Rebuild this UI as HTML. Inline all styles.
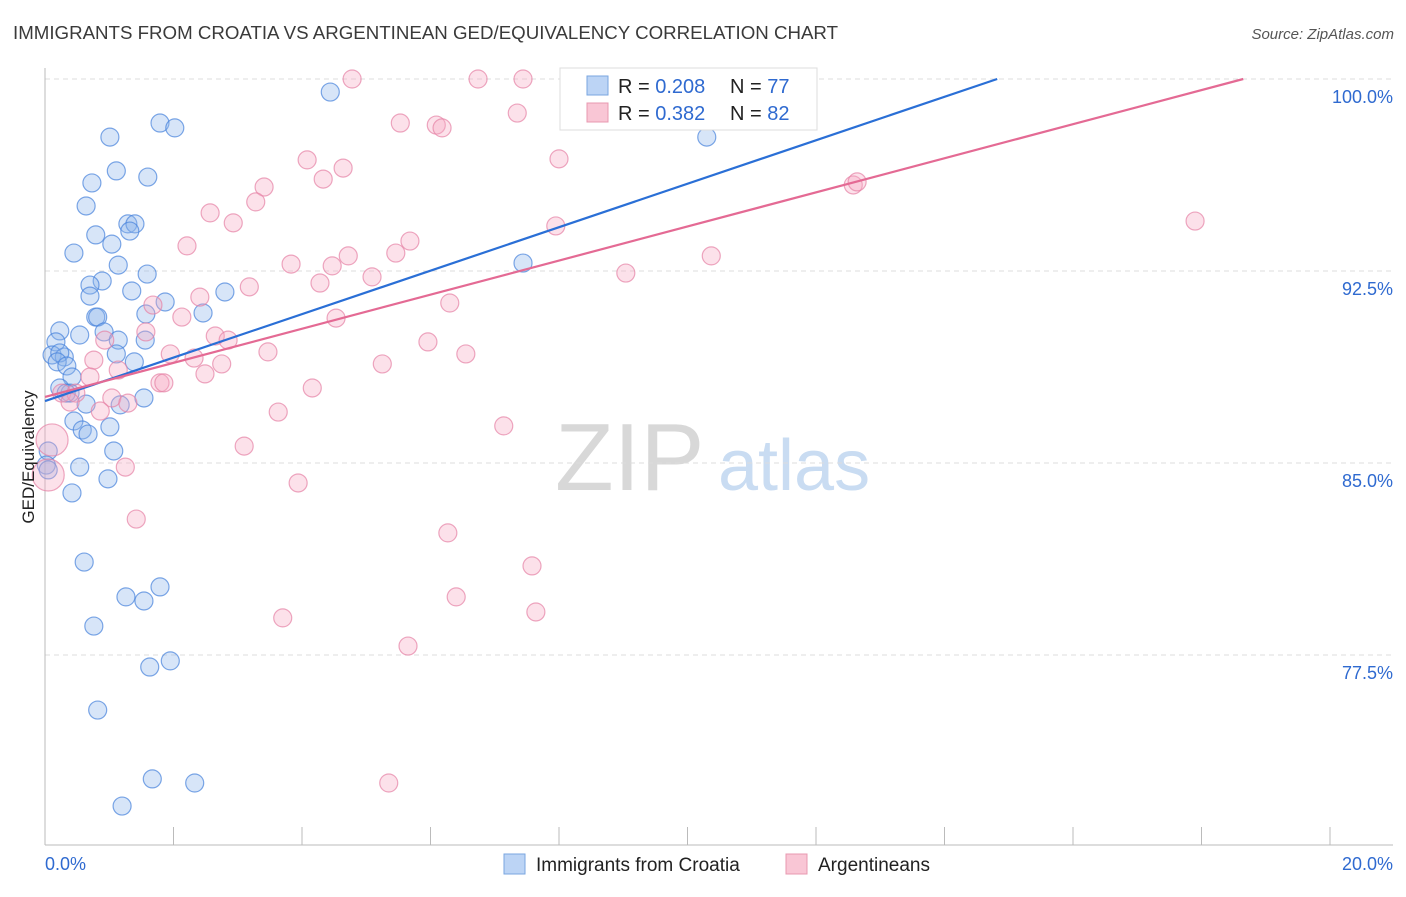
<!DOCTYPE html>
<html><head><meta charset="utf-8"><style>
body{margin:0;background:#fff;font-family:"Liberation Sans",sans-serif;}
svg text{font-family:"Liberation Sans",sans-serif;}
</style></head><body>
<svg id="chart" width="1406" height="892" xmlns="http://www.w3.org/2000/svg">
<text x="13" y="39" font-size="18.7" fill="#3a3a3a" textLength="825" lengthAdjust="spacingAndGlyphs">IMMIGRANTS FROM CROATIA VS ARGENTINEAN GED/EQUIVALENCY CORRELATION CHART</text>
<text x="1394" y="39" font-size="15" fill="#555" font-style="italic" text-anchor="end">Source: ZipAtlas.com</text>
<g>
<text x="555" y="490" font-size="96" fill="#d8d8d8" font-family="Liberation Serif, serif">ZIP</text>
<text x="718" y="490" font-size="72" fill="#c9dcf2">atlas</text>
</g>
<g id="grid"></g>
<g id="axes"></g>
<g id="pts"></g>
<g id="lines"></g>
<text transform="translate(34,457) rotate(-90)" font-size="17" fill="#222" text-anchor="middle">GED/Equivalency</text>
<g>
<rect x="560" y="68" width="257" height="62" fill="#fff" stroke="#ddd"/>
<rect x="587" y="76" width="21" height="19" fill="#bcd4f5" stroke="#7aa6e0"/>
<text x="618" y="93" font-size="20" fill="#222">R = <tspan fill="#2f6ad0">0.208</tspan></text>
<text x="730" y="93" font-size="20" fill="#222">N = <tspan fill="#2f6ad0">77</tspan></text>
<rect x="587" y="103" width="21" height="19" fill="#f9c6d5" stroke="#e898b0"/>
<text x="618" y="120" font-size="20" fill="#222">R = <tspan fill="#2f6ad0">0.382</tspan></text>
<text x="730" y="120" font-size="20" fill="#222">N = <tspan fill="#2f6ad0">82</tspan></text>
</g>
<g>
<rect x="504" y="854" width="21" height="20" fill="#bcd4f5" stroke="#7aa6e0"/>
<text x="536" y="871" font-size="19" fill="#222">Immigrants from Croatia</text>
<rect x="786" y="854" width="21" height="20" fill="#f9c6d5" stroke="#e898b0"/>
<text x="818" y="871" font-size="19" fill="#222">Argentineans</text>
</g>
</svg>
<script>
const yTicks=[100,92.5,85,77.5];
const yTickLabels=["100.0%","92.5%","85.0%","77.5%"];
const xTickLabels=["0.0%","20.0%"];
const blueX=[4.44,1.01,1.79,2.02,1.11,1.60,0.73,0.64,1.29,1.40,1.32,0.79,1.04,0.45,1.14,1.59,0.89,0.70,1.35,0.70,1.87,2.80,1.57,2.46,0.79,0.82,0.23,0.54,0.92,1.56,0.17,1.14,1.11,0.11,0.30,0.23,0.19,1.39,0.34,0.42,0.23,0.39,0.33,1.54,1.17,0.64,0.45,1.01,0.58,0.67,1.07,0.05,0.02,0.54,0.98,0.42,0.61,1.79,1.26,1.54,0.76,1.63,1.95,0.82,1.67,2.33,1.20,7.44,10.30,0.05];
const blueY=[99.49,97.73,98.28,98.09,96.41,96.17,95.94,95.04,94.34,94.34,94.06,93.91,93.55,93.20,92.73,92.38,92.11,91.95,91.72,91.52,91.29,91.68,90.82,90.86,90.70,90.70,90.16,90.00,90.12,89.80,89.73,89.80,89.26,89.22,89.14,89.30,88.95,88.95,88.79,88.36,87.93,87.73,87.73,87.54,87.27,87.30,86.64,86.41,86.29,86.13,85.47,85.47,84.92,84.84,84.38,83.83,81.13,80.16,79.77,79.61,78.63,77.03,77.27,75.35,72.66,72.50,71.60,92.81,97.73,84.73];
const pinkX=[4.78,6.74,7.44,8.17,9.45,7.35,5.53,6.09,6.18,4.08,8.00,4.64,4.33,3.41,3.28,2.57,2.93,7.95,2.21,5.68,5.46,4.72,10.37,3.83,4.47,9.04,5.09,4.28,3.18,2.41,1.68,2.13,4.53,6.30,1.57,2.65,2.85,5.96,0.93,6.55,3.47,1.95,2.32,0.76,2.75,5.25,1.14,0.70,2.49,1.79,1.85,4.16,0.26,0.48,0.39,1.04,1.29,0.86,3.63,7.14,3.10,0.11,1.25,0.05,3.94,1.42,6.27,7.58,6.40,7.64,3.70,5.65,5.35,12.58,12.64,17.90];
const pinkY=[100,100,100,100,100,98.67,98.28,98.20,98.09,96.84,96.88,96.52,96.09,95.78,95.20,94.77,94.38,94.26,93.48,93.67,93.20,93.09,93.09,92.77,92.70,92.42,92.27,92.03,91.88,91.48,91.17,90.70,90.66,91.25,90.12,89.96,89.80,89.73,89.80,89.26,89.34,89.26,89.10,89.02,88.87,88.87,88.63,88.36,88.48,88.13,88.13,87.93,87.73,87.73,87.38,87.54,87.34,87.03,86.99,86.45,85.66,85.90,84.84,84.53,84.22,82.81,82.27,80.98,79.77,79.18,78.95,77.85,72.50,95.86,95.98,94.45];
const pinkBig=[61,63];
const blueTrend=[87.42,14.82];
const pinkTrend=[87.58,18.65];
const NS="http://www.w3.org/2000/svg";
const X=v=>45+v/20*1285;
const Y=v=>79+(100-v)/7.5*192;
function mk(tag,attrs,parent){const e=document.createElementNS(NS,tag);for(const k in attrs)e.setAttribute(k,attrs[k]);parent.appendChild(e);return e;}
const grid=document.getElementById('grid'),axes=document.getElementById('axes');
yTicks.forEach((t,i)=>{
 const l=mk('line',{x1:45,x2:1393,y1:Y(t),y2:Y(t),stroke:'#ddd','stroke-dasharray':'5,4'},grid);
 
 
 const tx=mk('text',{x:1393,y:Y(t)+24,'font-size':18,fill:'#2f6ad0','text-anchor':'end'},axes);
 tx.textContent=yTickLabels[i];
 
 
});
mk('line',{x1:45,x2:45,y1:68,y2:845,stroke:'#bbb'},axes);
mk('line',{x1:45,x2:1393,y1:845,y2:845,stroke:'#bbb'},axes);
for(let i=0;i<=10;i++){
 const tk=mk('line',{x1:X(i*2),x2:X(i*2),y1:827,y2:845,stroke:'#bbb'},axes);
 
 
}
const xl0=mk('text',{x:45,y:870,'font-size':18,fill:'#2f6ad0'},axes);xl0.textContent=xTickLabels[0];


const xl1=mk('text',{x:1393,y:870,'font-size':18,fill:'#2f6ad0','text-anchor':'end'},axes);xl1.textContent=xTickLabels[1];


const pts=document.getElementById('pts');
blueX.forEach((x,i)=>{
 const c=mk('circle',{cx:X(x),cy:Y(blueY[i]),r:9,fill:'rgba(140,180,235,0.35)',stroke:'rgba(70,130,220,0.7)','stroke-width':1.2},pts);
 
 
});
pinkX.forEach((x,i)=>{
 const r=pinkBig.includes(i)?16:9;
 const c=mk('circle',{cx:X(x),cy:Y(pinkY[i]),r:r,fill:'rgba(245,170,195,0.35)',stroke:'rgba(230,130,165,0.7)','stroke-width':1.2},pts);
 
 
});
const lines=document.getElementById('lines');
const bl=mk('line',{x1:X(0),y1:Y(blueTrend[0]),x2:X(blueTrend[1]),y2:Y(100),stroke:'#2a6fd6','stroke-width':2.2},lines);


const pl=mk('line',{x1:X(0),y1:Y(pinkTrend[0]),x2:X(pinkTrend[1]),y2:Y(100),stroke:'#e46a94','stroke-width':2.2},lines);


</script>
</body></html>
